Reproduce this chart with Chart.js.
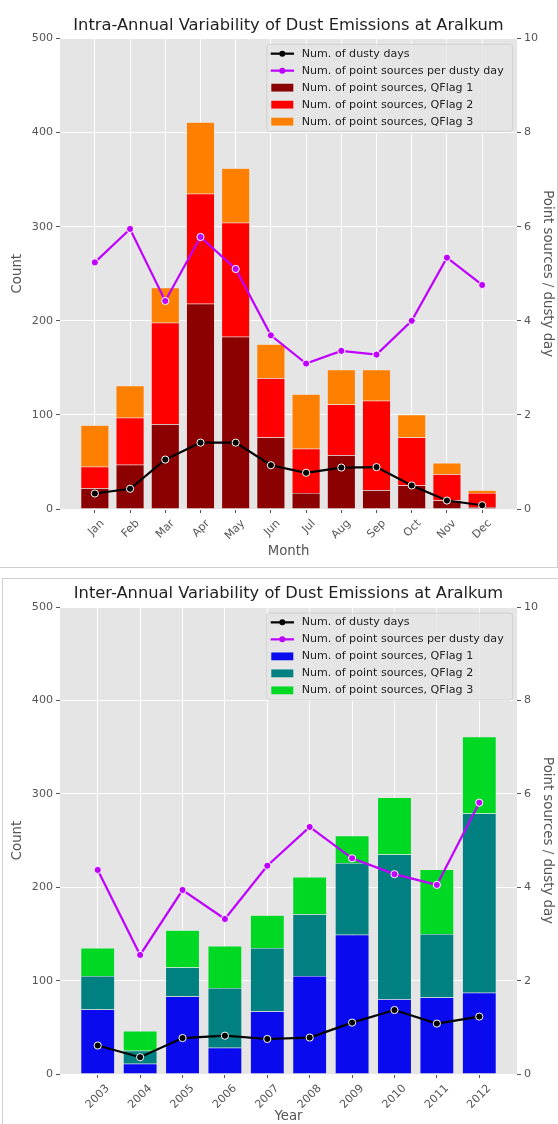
<!DOCTYPE html>
<html>
<head>
<meta charset="utf-8">
<script src="https://cdn.jsdelivr.net/npm/chart.js@4.4.1/dist/chart.umd.min.js"></script>
<style>
  html, body { margin: 0; padding: 0; background: #fff; overflow: hidden; }
  #top { position: absolute; left: 0; top: 0; width: 557px; height: 567px; border-right: 1px solid #cfcfcf; border-bottom: 1px solid #cfcfcf; }
  #bottom { position: absolute; left: 2px; top: 578px; width: 555px; height: 553px; border-left: 1px solid #cfcfcf; border-top: 1px solid #cfcfcf; }
  canvas { display: block; }
</style>
</head>
<body>
<div id="top"><canvas id="monthChart" width="557" height="567"></canvas></div>
<div id="bottom"><canvas id="yearChart" width="555" height="553"></canvas></div>
<script>
const months = ['Jan', 'Feb', 'Mar', 'Apr', 'May', 'Jun', 'Jul', 'Aug', 'Sep', 'Oct', 'Nov', 'Dec'];
const monthQF1 = [22, 47, 90, 218, 183, 76, 17, 57, 20, 25, 9, 2];
const monthQF2 = [23, 50, 108, 117, 121, 63, 47, 54, 95, 51, 28, 15];
const monthQF3 = [44, 34, 37, 76, 58, 36, 58, 37, 33, 24, 12, 3];
const monthDustyDays = [0.33, 0.43, 1.05, 1.41, 1.41, 0.93, 0.77, 0.88, 0.89, 0.50, 0.18, 0.08];
const monthPerDay = [5.24, 5.95, 4.42, 5.78, 5.10, 3.69, 3.09, 3.36, 3.28, 4.00, 5.34, 4.76];

const years = ['2003', '2004', '2005', '2006', '2007', '2008', '2009', '2010', '2011', '2012'];
const yearQF1 = [69, 11, 83, 28, 67, 105, 149, 80, 82, 87];
const yearQF2 = [36, 14, 31, 64, 68, 66, 77, 155, 68, 192];
const yearQF3 = [30, 21, 40, 45, 35, 40, 29, 61, 69, 82];
const yearDustyDays = [0.61, 0.36, 0.77, 0.82, 0.75, 0.78, 1.10, 1.37, 1.08, 1.23];
const yearPerDay = [4.37, 2.55, 3.94, 3.32, 4.46, 5.29, 4.62, 4.28, 4.05, 5.81];

const countTicks = [0, 100, 200, 300, 400, 500];
const ratioTicks = [0, 2, 4, 6, 8, 10];

Chart.defaults.font.family = 'DejaVu Sans';
Chart.defaults.color = '#555555';

const plotBackground = {
  id: 'plotBackground',
  beforeDraw(chart) {
    const { ctx, chartArea: a } = chart;
    ctx.save();
    ctx.fillStyle = '#e5e5e5';
    ctx.fillRect(a.left, a.top, a.width, a.height);
    ctx.restore();
  }
};

// matplotlib style legend drawn inside the plot, top right
const insideLegend = {
  id: 'insideLegend',
  afterDraw(chart) {
    const { ctx, chartArea: a } = chart;
    const w = 246, h = 87;
    const x0 = a.right - 4.3 - w, y0 = a.top + 6;
    ctx.save();
    ctx.beginPath();
    ctx.roundRect(x0, y0, w, h, 3);
    ctx.fillStyle = 'rgba(229,229,229,0.8)';
    ctx.fill();
    ctx.strokeStyle = 'rgba(204,204,204,0.8)';
    ctx.lineWidth = 1;
    ctx.stroke();
    ctx.font = '11.1px "DejaVu Sans"';
    ctx.textBaseline = 'middle';
    chart.data.datasets.forEach((ds, i) => {
      const y = y0 + 9.3 + i * 17;
      if (ds.type === 'line') {
        ctx.strokeStyle = ds.borderColor;
        ctx.lineWidth = 2.2;
        ctx.beginPath();
        ctx.moveTo(x0 + 4, y);
        ctx.lineTo(x0 + 27.3, y);
        ctx.stroke();
        ctx.fillStyle = ds.borderColor;
        ctx.beginPath();
        ctx.arc(x0 + 15.6, y, 3, 0, Math.PI * 2);
        ctx.fill();
      } else {
        ctx.fillStyle = ds.backgroundColor;
        ctx.fillRect(x0 + 4.6, y - 3.9, 22, 7.8);
      }
      ctx.fillStyle = '#222222';
      ctx.fillText(ds.label, x0 + 35, y);
    });
    ctx.restore();
  }
};

function makeChart(id, title, xTitle, labels, q1, q2, q3, days, perDay, colors, opt) {
  const pts = (arr) => arr.map((v, i) => ({ x: i, y: v }));
  const bar = (label, arr, color) => ({
    type: 'bar', label: label, data: pts(arr), yAxisID: 'y',
    backgroundColor: color, borderColor: '#eeeeee', borderWidth: 0.5,
    categoryPercentage: 1, barPercentage: 0.8, order: 2
  });
  const line = (label, arr, color) => ({
    type: 'line', label: label, data: pts(arr), yAxisID: 'y1',
    borderColor: color, borderWidth: 2.2, backgroundColor: color,
    pointRadius: 3.6, pointBorderColor: '#ffffff', pointBorderWidth: 1,
    pointBackgroundColor: color, tension: 0, order: 1
  });
  const tickFont = { size: 11.1 };
  const titleFont = { size: 13.3 };
  return new Chart(document.getElementById(id), {
    type: 'bar',
    data: {
      datasets: [
        line('Num. of dusty days', days, '#000000'),
        line('Num. of point sources per dusty day', perDay, '#bf00ff'),
        bar('Num. of point sources, QFlag 1', q1, colors[0]),
        bar('Num. of point sources, QFlag 2', q2, colors[1]),
        bar('Num. of point sources, QFlag 3', q3, colors[2])
      ]
    },
    options: {
      responsive: false,
      devicePixelRatio: 1,
      animation: false,
      layout: { padding: 0 },
      plugins: {
        legend: { display: false },
        tooltip: { enabled: false },
        title: {
          display: true, text: title, color: '#1f1f1f', fullSize: false,
          font: { size: 16.3, weight: 'normal' }, padding: opt.titlePad
        }
      },
      scales: {
        x: {
          type: 'linear', stacked: true, offset: false,
          min: -0.4 - 0.05 * (labels.length - 0.2), max: labels.length - 0.6 + 0.05 * (labels.length - 0.2),
          afterBuildTicks: (s) => { s.ticks = labels.map((l, i) => ({ value: i })); },
          afterFit: (s) => { s.height = 58; },
          ticks: {
            autoSkip: false, minRotation: 45, maxRotation: 45, padding: 4,
            labelOffset: opt.labelOffset, font: tickFont,
            callback: (v) => labels[v]
          },
          grid: { color: '#ffffff', lineWidth: 1, offset: false, tickLength: 4, tickColor: '#555555' },
          border: { display: false },
          title: { display: true, text: xTitle, font: titleFont, padding: { top: 0, bottom: 7.3 } }
        },
        y: {
          position: 'left', stacked: true, min: 0, max: 500,
          afterBuildTicks: (s) => { s.ticks = countTicks.map((v) => ({ value: v })); },
          afterFit: (s) => { s.width = opt.leftW; },
          ticks: { padding: 3, font: tickFont },
          grid: { color: '#ffffff', lineWidth: 1, tickLength: 4, tickColor: '#555555' },
          border: { display: false },
          title: { display: true, text: 'Count', font: titleFont, padding: { top: opt.leftTitlePad, bottom: 0 } }
        },
        y1: {
          position: 'right', min: 0, max: 10,
          afterBuildTicks: (s) => { s.ticks = ratioTicks.map((v) => ({ value: v })); },
          afterFit: (s) => { s.width = opt.rightW; },
          ticks: { padding: 3, font: tickFont },
          grid: { drawOnChartArea: false, tickLength: 4, tickColor: '#555555' },
          border: { display: false },
          title: { display: true, text: 'Point sources / dusty day', font: titleFont, padding: { top: opt.rightTitlePad, bottom: 0 } }
        }
      }
    },
    plugins: [plotBackground, insideLegend]
  });
}

makeChart('monthChart', 'Intra-Annual Variability of Dust Emissions at Aralkum', 'Month', months,
  monthQF1, monthQF2, monthQF3, monthDustyDays, monthPerDay,
  ['#8b0000', '#ff0000', '#ff7f00'],
  { titlePad: { top: 16.4, bottom: 2.4 }, labelOffset: 7.5, leftW: 60, rightW: 40, leftTitlePad: 10, rightTitlePad: 2 });

makeChart('yearChart', 'Inter-Annual Variability of Dust Emissions at Aralkum', 'Year', years,
  yearQF1, yearQF2, yearQF3, yearDustyDays, yearPerDay,
  ['#0a0aef', '#008080', '#00d924'],
  { titlePad: { top: 4.5, bottom: 4 }, labelOffset: 10, leftW: 57, rightW: 41, leftTitlePad: 7, rightTitlePad: 3 });
</script>
</body>
</html>
